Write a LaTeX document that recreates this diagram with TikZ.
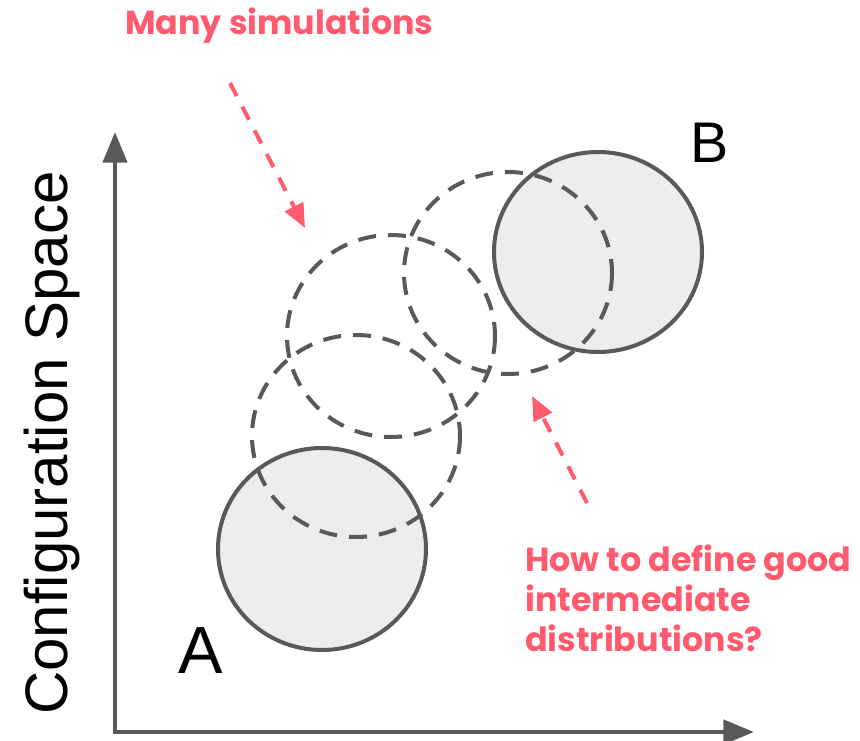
\documentclass[tikz,border=0pt]{standalone}
\usepackage{fontspec}
\setmainfont{Liberation Sans}
\newfontfamily\notefont{Poppins}
\usetikzlibrary{arrows.meta,positioning}
\definecolor{AxisGray}{HTML}{595959}
\definecolor{RegionFill}{HTML}{EDEDED}
\definecolor{NotePink}{HTML}{FF5A6E}

\begin{document}
\begin{tikzpicture}[x=0.75pt,y=-0.75pt,line join=round,
  axis/.style={AxisGray,line width=3.4pt,-{Triangle[length=23pt,width=18pt]}},
  region/.style={draw=AxisGray,fill=RegionFill,line width=3pt},
  middle/.style={draw=AxisGray,line width=3pt,dash pattern=on 13.5pt off 9pt},
  pointer/.style={NotePink,line width=3pt,dash pattern=on 11pt off 9pt,
    -{Triangle[length=18pt,width=15pt]}},
  note/.style={NotePink,inner sep=0pt,font=\notefont\bfseries\fontsize{25}{29.8}\selectfont},
  endlabel/.style={inner sep=0pt,anchor=base west}]
  \useasboundingbox (0,0) rectangle (860,741);

  % axes
  \coordinate (O) at (115,732);
  \coordinate (ytip) at (115,132);
  \coordinate (xtip) at (754,732);
  \draw[axis] (O) -- (ytip);
  \draw[axis] ([xshift=-1.7pt]O) -- (xtip);
  \node[rotate=90,anchor=base,inner sep=0pt,font=\fontsize{45}{50}\selectfont]
    (ylab) at (67,443) {Configuration Space};

  % end states and intermediates
  \draw[region] (322,549) ellipse (104 and 101);
  \draw[region] (598,252) ellipse (104 and 100);
  \draw[middle] (356,436) ellipse (104 and 101);
  \draw[middle] (391,336) ellipse (104 and 101);
  \draw[middle] (508,273) ellipse (104 and 101);
  \node[endlabel,font=\fontsize{50}{55}\selectfont] (A) at (178,673) {A};
  \node[endlabel,font=\fontsize{43}{48}\selectfont] (B) at (690,163) {B};

  % notes
  \node[note,anchor=base west] (sims) at (125,35) {Many simulations};
  \node[note,anchor=north west,align=left] (question) at (525,545)
    {How to define good\\intermediate\\distributions?};
  \coordinate (simsfrom) at (230,83);
  \coordinate (simsto) at (305,228);
  \coordinate (questfrom) at (587,503);
  \coordinate (questto) at (532,396);
  \draw[pointer] (simsfrom) -- (simsto);
  \draw[pointer] (questfrom) -- (questto);
\end{tikzpicture}
\end{document}
